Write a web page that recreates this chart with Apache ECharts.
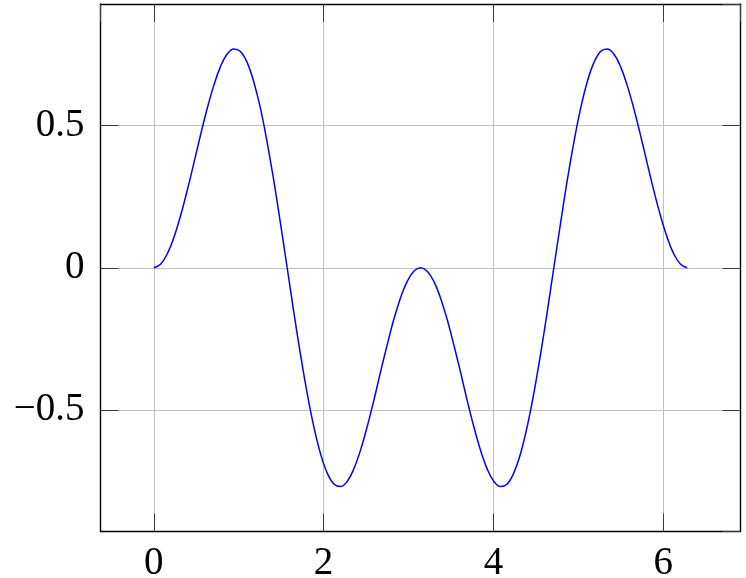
<!DOCTYPE html>
<html>
<head>
<meta charset="utf-8">
<script src="https://cdn.jsdelivr.net/npm/echarts@6/dist/echarts.min.js"></script>
<style>html,body{margin:0;padding:0;background:#fff;overflow:hidden}#c{width:746px;height:578px}</style>
</head>
<body>
<div id="c"></div>
<script>
const xValues = [0, 0.079, 0.157, 0.236, 0.314, 0.393, 0.471, 0.550, 0.628, 0.707, 0.785, 0.864, 0.942, 1.021, 1.100, 1.178, 1.257, 1.335, 1.414, 1.492, 1.571, 1.649, 1.728, 1.806, 1.885, 1.963, 2.042, 2.121, 2.199, 2.278, 2.356, 2.435, 2.513, 2.592, 2.670, 2.749, 2.827, 2.906, 2.985, 3.063, 3.142, 3.220, 3.299, 3.377, 3.456, 3.534, 3.613, 3.691, 3.770, 3.848, 3.927, 4.006, 4.084, 4.163, 4.241, 4.320, 4.398, 4.477, 4.555, 4.634, 4.712, 4.791, 4.869, 4.948, 5.027, 5.105, 5.184, 5.262, 5.341, 5.419, 5.498, 5.576, 5.655, 5.733, 5.812, 5.890, 5.969, 6.048, 6.126, 6.205, 6.283];
const yValues = [0, 0.012, 0.048, 0.106, 0.182, 0.271, 0.367, 0.466, 0.559, 0.641, 0.707, 0.751, 0.769, 0.760, 0.721, 0.653, 0.559, 0.441, 0.305, 0.156, 0, -0.156, -0.305, -0.441, -0.559, -0.653, -0.721, -0.760, -0.769, -0.751, -0.707, -0.641, -0.559, -0.466, -0.367, -0.271, -0.182, -0.106, -0.048, -0.012, 0, -0.012, -0.048, -0.106, -0.182, -0.271, -0.367, -0.466, -0.559, -0.641, -0.707, -0.751, -0.769, -0.760, -0.721, -0.653, -0.559, -0.441, -0.305, -0.156, 0, 0.156, 0.305, 0.441, 0.559, 0.653, 0.721, 0.760, 0.769, 0.751, 0.707, 0.641, 0.559, 0.466, 0.367, 0.271, 0.182, 0.106, 0.048, 0.012, 0];
const xTicks = [0, 2, 4, 6];
const yTicks = [-0.5, 0, 0.5];
const xRange = [-0.628, 6.911];
const yRange = [-0.927, 0.927];

const FONT = 'Liberation Serif';
const isTick = (arr, v) => arr.some(t => Math.abs(t - v) < 1e-6);
const fmtX = v => isTick(xTicks, v) ? String(v).replace('-', '\u2212') : '';
const fmtY = v => isTick(yTicks, v) ? String(v).replace('-', '\u2212') : '';
const tickStyle = {show: true, inside: true, length: 18, lineStyle: {color: '#3a3a3a', width: 1}};
const axisLineStyle = {show: true, onZero: false, lineStyle: {color: '#000', width: 1.4}};
const gridLine = {show: true, lineStyle: {color: '#c0c0c0', width: 1, type: 'solid'}};

function mkX(pos, showLabel) {
  return {
    type: 'value', position: pos, min: xRange[0], max: xRange[1], splitNumber: 4,
    axisLine: axisLineStyle,
    axisTick: tickStyle,
    axisLabel: {show: showLabel, showMinLabel: false, showMaxLabel: false, formatter: fmtX, fontFamily: FONT, fontSize: 39, color: '#000', margin: 13},
    splitLine: Object.assign({}, gridLine, {show: showLabel})
  };
}
function mkY(pos, showLabel) {
  return {
    type: 'value', position: pos, min: yRange[0], max: yRange[1], splitNumber: 4,
    axisLine: axisLineStyle,
    axisTick: tickStyle,
    axisLabel: {show: showLabel, showMinLabel: false, showMaxLabel: false, formatter: fmtY, fontFamily: FONT, fontSize: 39, color: '#000', margin: 16},
    splitLine: Object.assign({}, gridLine, {show: showLabel})
  };
}

const chart = echarts.init(document.getElementById('c'), null, {renderer: 'canvas'});
chart.setOption({
  animation: false,
  backgroundColor: '#fff',
  grid: {left: 100.5, right: 5.5, top: 4, bottom: 46.5, show: false, containLabel: false, outerBoundsMode: 'none'},
  xAxis: [mkX('bottom', true), mkX('top', false)],
  yAxis: [mkY('left', true), mkY('right', false)],
  series: [
    {
      type: 'line', xAxisIndex: 0, yAxisIndex: 0, z: 3,
      data: xValues.map((x, i) => [x, yValues[i]]),
      showSymbol: false, smooth: 0.4,
      lineStyle: {color: '#0000ff', width: 1.5},
      itemStyle: {color: '#0000ff'}
    }
  ]
});
</script>
</body>
</html>
